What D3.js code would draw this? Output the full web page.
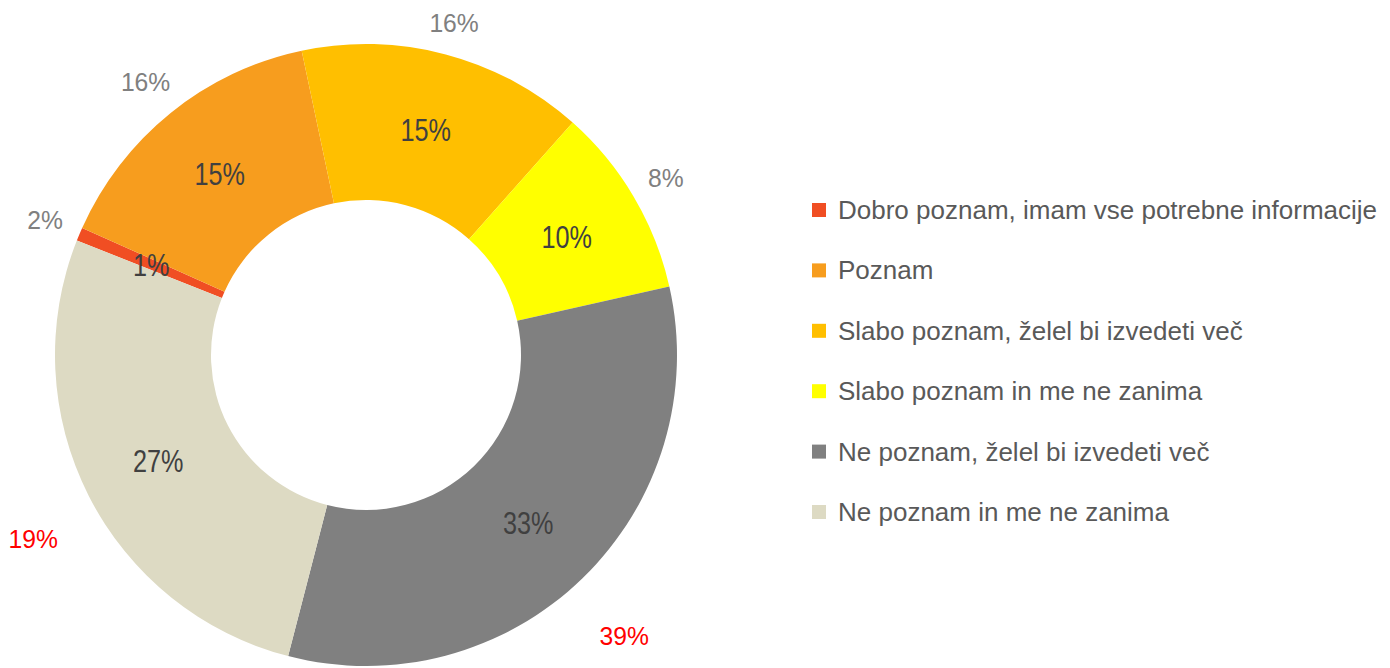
<!DOCTYPE html>
<html>
<head>
<meta charset="utf-8">
<script src="https://cdn.jsdelivr.net/npm/d3@7"></script>
<style>
  html, body { margin: 0; padding: 0; background: #fff; }
  svg { display: block; }
</style>
</head>
<body>
<svg id="chart" width="1390" height="668"></svg>
<script>
// ---- data ----
const categories = [
  "Dobro poznam, imam vse potrebne informacije",
  "Poznam",
  "Slabo poznam, želel bi izvedeti več",
  "Slabo poznam in me ne zanima",
  "Ne poznam, želel bi izvedeti več",
  "Ne poznam in me ne zanima"
];
const currentValues = [0.7, 15.0, 14.9, 9.9, 32.6, 27.0];   // inner labels (ring)
const previousValues = [2, 16, 16, 8, 39, 19];              // outer labels

// ---- style ----
const colors = ["#F04E23", "#F79D1E", "#FFBF00", "#FFFF00", "#808080", "#DDDAC3"];
const cx = 366, cy = 355;
const outerR = 311, innerR = 155;
const startDeg = -68.4;
const font = "'Liberation Sans', Arial, sans-serif";

const svg = d3.select("#chart");
const g = svg.append("g").attr("transform", `translate(${cx},${cy})`);

const pie = d3.pie().sort(null)
  .startAngle(startDeg * Math.PI / 180)
  .endAngle((startDeg + 360) * Math.PI / 180);
const arcs = pie(currentValues);
const arc = d3.arc().innerRadius(innerR).outerRadius(outerR);

g.selectAll("path.slice").data(arcs).join("path")
  .attr("class", "slice")
  .attr("d", arc)
  .attr("fill", (d, i) => colors[i]);

// inner labels (condensed look)
g.selectAll("text.inner").data(arcs).join("text")
  .attr("class", "inner")
  .attr("transform", d => `translate(${arc.centroid(d)}) scale(0.8,1)`)
  .attr("text-anchor", "middle")
  .attr("dy", "0.36em")
  .style("font-family", font)
  .style("font-size", "31.5px")
  .style("fill", "#404040")
  .text(d => Math.round(d.data) + "%");

// outer labels: box placed just outside the ring edge
const isHighlight = i => Math.abs(previousValues[i] - currentValues[i]) > 5;
const outerTexts = g.selectAll("text.outer").data(arcs).join("text")
  .attr("class", "outer")
  .attr("text-anchor", "middle")
  .attr("dy", "0.36em")
  .style("font-family", font)
  .style("font-size", "26px")
  .style("fill", (d, i) => isHighlight(i) ? "#FF0000" : "#808080")
  .text((d, i) => previousValues[i] + "%");

outerTexts.each(function(d, i) {
  const w = this.getComputedTextLength() * 0.95;
  const h = 19;
  const a = (d.startAngle + d.endAngle) / 2;
  const ux = Math.sin(a), uy = -Math.cos(a);
  const ext = Math.abs(ux) * w / 2 + Math.abs(uy) * h / 2;
  const gap = isHighlight(i) ? 36 : 17;
  const r = outerR + gap + ext;
  d3.select(this).attr("transform", `translate(${ux * r},${uy * r + (isHighlight(i) ? 14 : 0)}) scale(0.95,1)`);
});

// legend
const legendY = d3.scalePoint().domain(categories).range([210, 512]);
const lg = svg.append("g");
const items = lg.selectAll("g.item").data(categories).join("g")
  .attr("class", "item")
  .attr("transform", d => `translate(812,${legendY(d)})`);
items.append("rect")
  .attr("x", 0).attr("y", -7).attr("width", 14).attr("height", 14)
  .attr("fill", (d, i) => colors[i]);
items.append("text")
  .attr("x", 26).attr("y", 9)
  .style("font-family", font)
  .style("font-size", "26px")
  .style("fill", "#595959")
  .text(d => d);
</script>
</body>
</html>
